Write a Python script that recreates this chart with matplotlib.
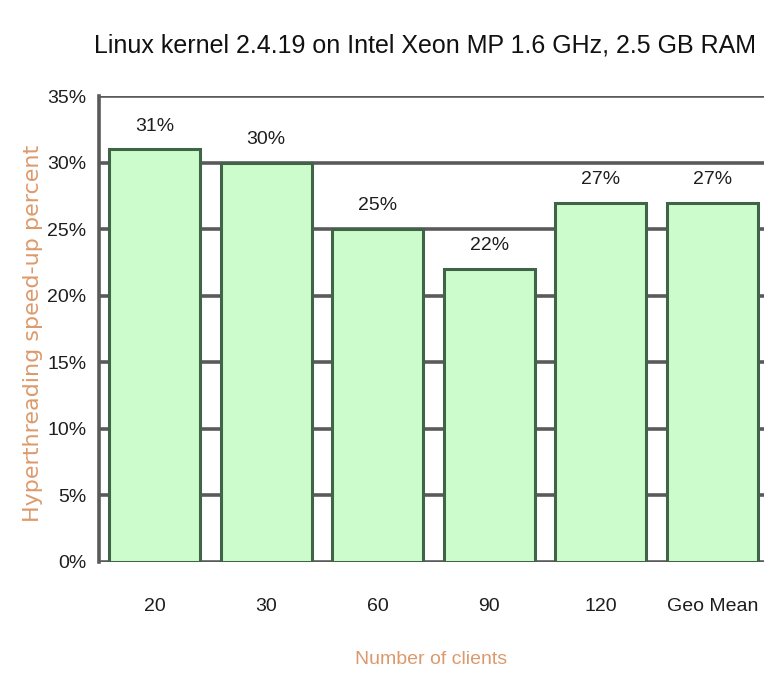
import matplotlib
matplotlib.use("Agg")
import matplotlib.pyplot as plt

categories = ["20", "30", "60", "90", "120", "Geo Mean"]
speedup = [31, 30, 25, 22, 27, 27]
yticks = [0, 5, 10, 15, 20, 25, 30, 35]

plt.rcParams["font.family"] = ["Liberation Sans", "DejaVu Sans"]

W, H = 764, 674
fig = plt.figure(figsize=(W / 100, H / 100), dpi=100)
left, right = 99, 768
bottom, top = 562, 96
ax = fig.add_axes([left / W, 1 - bottom / H, (right - left) / W, (bottom - top) / H])

grid_col = "#5a5a5a"
edge_col = "#3f6447"
fill_col = "#ccfccc"
label_col = "#dc9a6c"
text_col = "#1e1e1e"

x = range(len(categories))
ax.set_ylim(0, 35)
ax.set_xlim(-0.5, len(categories) - 0.5)
for t in yticks:
    ax.axhline(t, color=grid_col, lw=2.6, zorder=1)

bars = ax.bar(x, speedup, width=0.82, color=fill_col, edgecolor=edge_col,
              linewidth=2.2, zorder=2)
for xi, v in zip(x, speedup):
    ax.text(xi, v + 1.1, f"{v}%", ha="center", va="bottom", fontsize=14,
            color=text_col, zorder=3)

ax.set_yticks(yticks)
ax.set_yticklabels([f"{t}%" for t in yticks], fontsize=14, color=text_col)
ax.set_xticks(list(x))
ax.set_xticklabels(categories, fontsize=14, color=text_col)
ax.tick_params(axis="y", length=0, pad=9)
ax.tick_params(axis="x", length=0, pad=26)

for side in ["top", "right", "bottom"]:
    ax.spines[side].set_visible(False)
ax.spines["left"].set_color(grid_col)
ax.spines["left"].set_linewidth(2.6)

fig.text(33 / W, 1 - 333 / H, "Hyperthreading speed-up percent", family="DejaVu Sans",
         rotation=90, ha="center", va="center", fontsize=16, color=label_col)
fig.text(431 / W, 1 - 660 / H, "Number of clients", ha="center", va="center",
         fontsize=14, color=label_col)
fig.text(425 / W, 1 - 45 / H, "Linux kernel 2.4.19 on Intel Xeon MP 1.6 GHz, 2.5 GB RAM",
         ha="center", va="center", fontsize=18, color="#111111")

fig.savefig("out.png", dpi=100, facecolor="white")
